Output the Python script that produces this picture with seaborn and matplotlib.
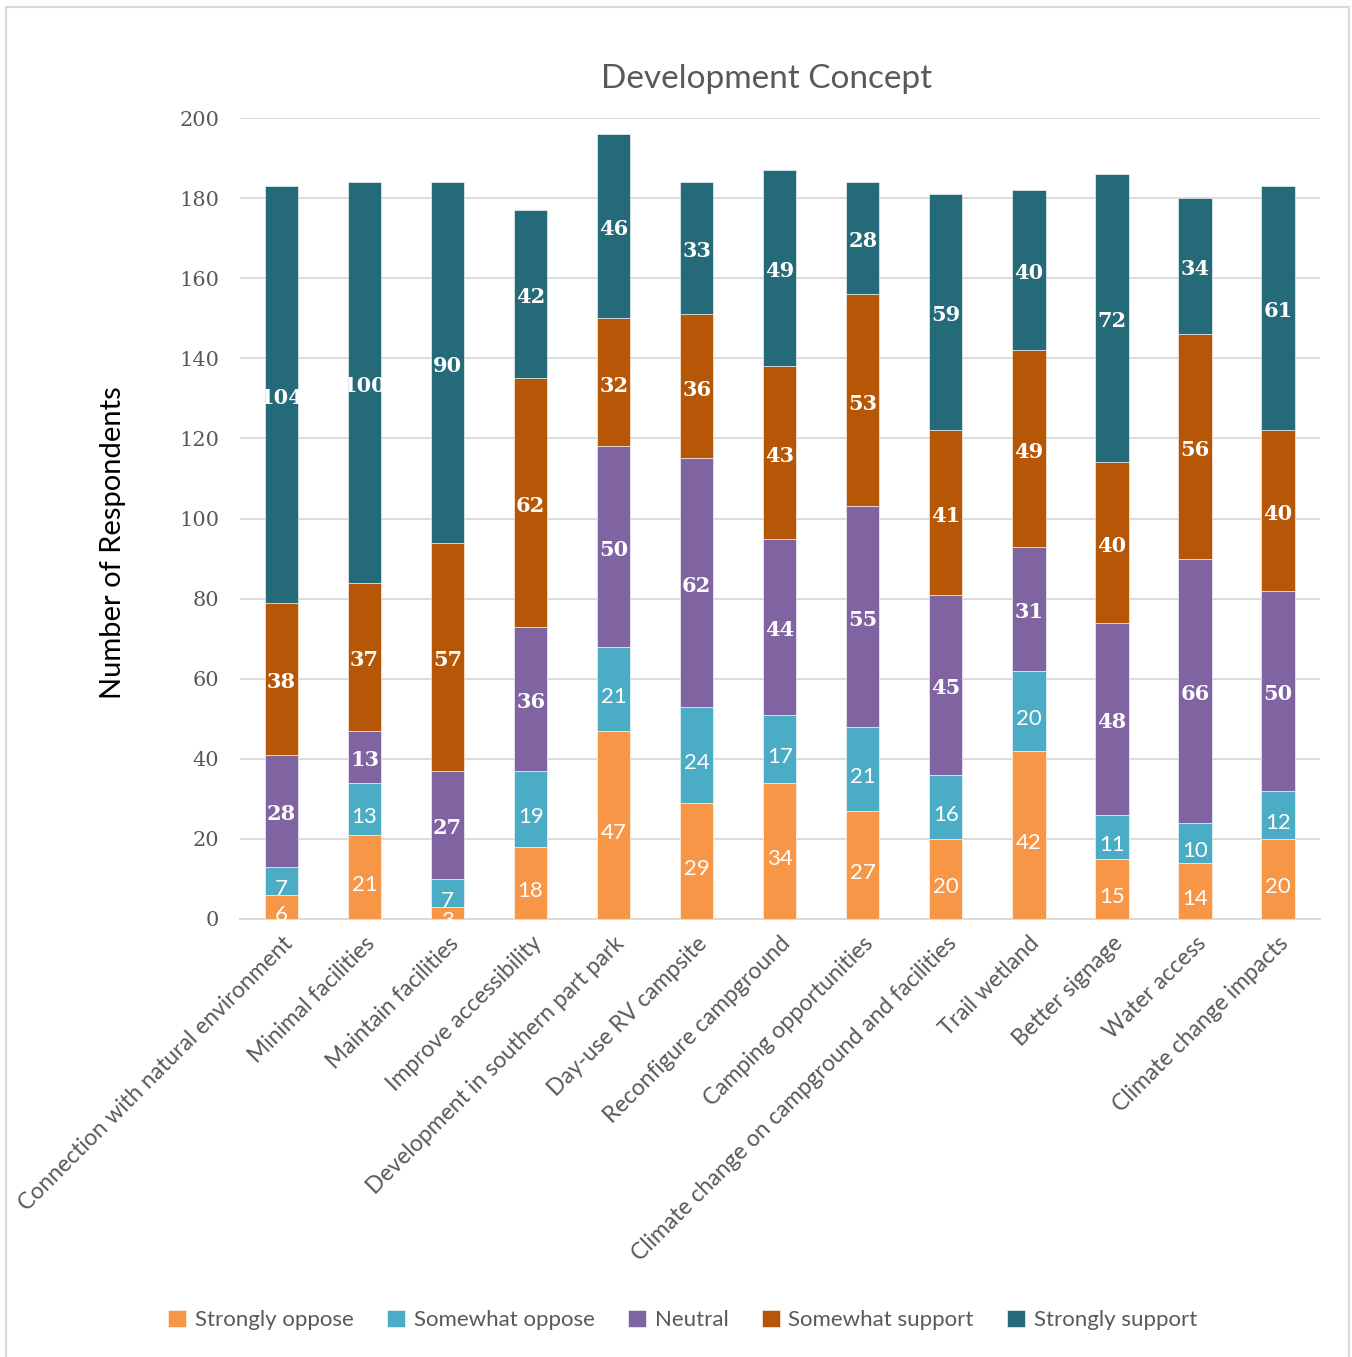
import numpy as np
import pandas as pd
import matplotlib
matplotlib.use("Agg")
import matplotlib.pyplot as plt
import seaborn as sns
from matplotlib.patches import Rectangle

categories = ["Connection with natural environment", "Minimal facilities", "Maintain facilities",
              "Improve accessibility", "Development in southern part park", "Day-use RV campsite",
              "Reconfigure campground", "Camping opportunities",
              "Climate change on campground and facilities", "Trail wetland", "Better signage",
              "Water access", "Climate change impacts"]
strongly_oppose = [6, 21, 3, 18, 47, 29, 34, 27, 20, 42, 15, 14, 20]
somewhat_oppose = [7, 13, 7, 19, 21, 24, 17, 21, 16, 20, 11, 10, 12]
neutral = [28, 13, 27, 36, 50, 62, 44, 55, 45, 31, 48, 66, 50]
somewhat_support = [38, 37, 57, 62, 32, 36, 43, 53, 41, 49, 40, 56, 40]
strongly_support = [104, 100, 90, 42, 46, 33, 49, 28, 59, 40, 72, 34, 61]

series_names = ["Strongly oppose", "Somewhat oppose", "Neutral", "Somewhat support", "Strongly support"]
series_values = [strongly_oppose, somewhat_oppose, neutral, somewhat_support, strongly_support]
colors = ["#F79646", "#4BACC6", "#8064A2", "#B65708", "#256A79"]

sns.set_theme(style="white")
plt.rcParams['font.family'] = ['Lato', 'DejaVu Sans']

fig = plt.figure(figsize=(13.52, 13.57), dpi=100)
ax = fig.add_axes([0.1775, 0.3228, 0.7985, 0.5902])

df = pd.DataFrame({"cat": categories})
bottom = np.zeros(len(categories))
for i, (name, vals) in enumerate(zip(series_names, series_values)):
    vals = np.array(vals, dtype=float)
    d = df.copy()
    d["val"] = vals
    sns.barplot(data=d, x="cat", y="val", ax=ax, color=colors[i], width=0.4, saturation=1,
                bottom=bottom, label=name, edgecolor="white", linewidth=0.4, zorder=3)
    for j, v in enumerate(vals):
        yc = bottom[j] + v / 2
        if i < 2:
            ax.text(j, yc - 2, f"{int(v)}", ha="center", va="center", color="white",
                    fontsize=16, family=['Lato', 'DejaVu Sans'], zorder=5)
        else:
            ax.text(j, yc - 0.8, f"{int(v)}", ha="center", va="center", color="white",
                    fontsize=15, fontweight="bold", family=['DejaVu Serif'], zorder=5)
    bottom += vals

if ax.get_legend() is not None:
    ax.get_legend().remove()

ax.set_ylim(0, 200)
ax.set_xlim(-0.5, len(categories) - 0.5)
ax.set_yticks(range(0, 201, 20))
ax.set_yticklabels([str(t) for t in range(0, 201, 20)], family=['DejaVu Serif'],
                   fontsize=15, color="#595959")
ax.yaxis.grid(True, color="#D9D9D9", linewidth=1.3, zorder=0)
ax.set_axisbelow(True)
for s in ["top", "right", "left"]:
    ax.spines[s].set_visible(False)
ax.spines["bottom"].set_color("#D9D9D9")
ax.spines["bottom"].set_linewidth(1.3)
ax.tick_params(axis="y", length=0, pad=15)
ax.set_xticks(range(len(categories)))
ax.set_xticklabels(categories, rotation=45, ha="right", rotation_mode="anchor",
                   fontsize=16.5, color="#595959")
ax.tick_params(axis="x", length=0, pad=10)
ax.set_xlabel("")
ax.set_ylabel("Number of Respondents", fontsize=21, color="#000000", labelpad=40)
ax.yaxis.set_label_coords(-0.106, 0.47)
ax.set_title("Development Concept", fontsize=24, color="#595959", pad=22, x=0.488)

handles, labels = ax.get_legend_handles_labels()
fig.legend(handles, labels, loc="center", bbox_to_anchor=(0.505, 0.027), ncol=5, frameon=False,
           handlelength=0.8, handleheight=0.8, columnspacing=1.5, handletextpad=0.4,
           labelcolor="#595959", prop={'size': 16})

fig.patches.append(Rectangle((0.0045, -0.01), 0.993, 1.005, transform=fig.transFigure,
                             fill=False, edgecolor="#D9D9D9", linewidth=1.5))

fig.savefig("out.png", dpi=100, facecolor="white")
